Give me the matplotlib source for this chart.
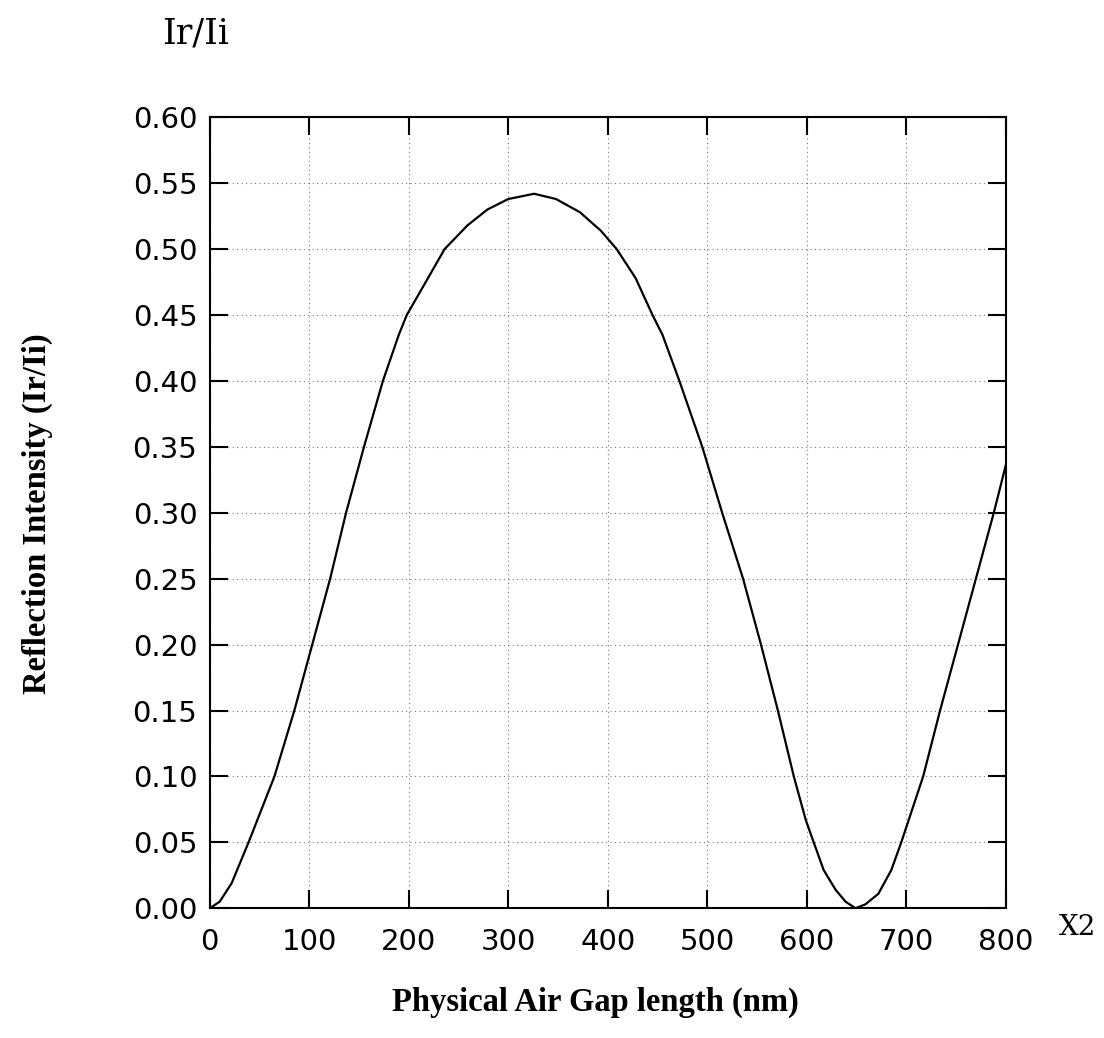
import numpy as np
import matplotlib
matplotlib.use("Agg")
from matplotlib import pyplot as plt

# values
gap_nm = [0, 10, 22, 39, 65, 85, 103, 121, 137, 155, 174, 190, 198, 214, 236,
          259, 279, 300, 326, 348, 372, 393, 409, 428, 445, 455, 472, 495, 515,
          536, 554, 571, 587, 599, 607, 617, 629, 639, 649, 659, 672, 685, 695,
          717, 734, 752, 770, 788, 800]
ratio = [0.0, 0.005, 0.019, 0.05, 0.10, 0.15, 0.20, 0.25, 0.30, 0.35, 0.40, 0.435, 0.45, 0.471, 0.50,
         0.518, 0.530, 0.538, 0.542, 0.538, 0.528, 0.514, 0.50, 0.478, 0.45, 0.435, 0.40, 0.35, 0.30,
         0.25, 0.20, 0.15, 0.10, 0.067, 0.05, 0.029, 0.014, 0.005, 0.0, 0.003, 0.011, 0.029, 0.05,
         0.10, 0.15, 0.20, 0.25, 0.30, 0.336]

x_ticks = np.arange(0, 801, 100)
y_ticks = np.arange(0, 0.601, 0.05)

fig = plt.figure(figsize=(11.04, 10.38), dpi=100)
ax = fig.add_axes([0.190, 0.125, 0.721, 0.762])

ax.plot(gap_nm, ratio, color="black", lw=1.6)

ax.set_xlim(0, 800)
ax.set_ylim(0, 0.6)
ax.set_xticks(x_ticks)
ax.set_yticks(y_ticks)
ax.set_yticklabels(["%.2f" % v for v in y_ticks])
ax.grid(True, color="#777777", ls=(0, (1, 3)), lw=0.8)

ax.tick_params(direction="in", length=13, width=1.5, top=True, right=True,
               labelsize=21, colors="black")
ax.tick_params(axis="x", pad=14)
ax.tick_params(axis="y", pad=9)
for s in ax.spines.values():
    s.set_linewidth(1.5)

fig.text(0.177, 0.968, "Ir/Ii", family="DejaVu Serif", fontsize=25, ha="center", va="center")
fig.text(0.976, 0.106, "X2", family="DejaVu Serif", fontsize=20, ha="center", va="center")

fig.text(0.539, 0.034, "Physical Air Gap length (nm)", family="Liberation Serif",
         weight="bold", fontsize=23.5, ha="center", va="center")
fig.text(0.034, 0.505, "Reflection Intensity (Ir/Ii)", family="Liberation Serif",
         weight="bold", fontsize=23.5, ha="center", va="center", rotation=90)

fig.savefig("out.png", dpi=100)
